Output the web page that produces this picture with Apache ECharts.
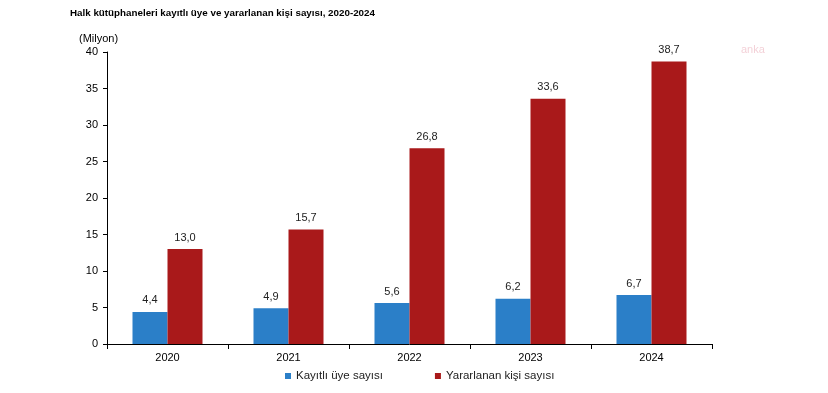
<!DOCTYPE html>
<html><head><meta charset="utf-8">
<script src="https://cdn.jsdelivr.net/npm/echarts@6/dist/echarts.min.js"></script>
<style>html,body{margin:0;padding:0;background:#fff}#c{width:828px;height:393px}</style>
</head><body><div id="c"></div>
<script>
const title = 'Halk kütüphaneleri kayıtlı üye ve yararlanan kişi sayısı, 2020-2024';
const unitLabel = '(Milyon)';
const years = ['2020','2021','2022','2023','2024'];
const uyeName = 'Kayıtlı üye sayısı';
const yararName = 'Yararlanan kişi sayısı';
const uye = [4.4, 4.9, 5.6, 6.2, 6.7];
const yarar = [13.0, 15.7, 26.8, 33.6, 38.7];

const fmt = v => v.toFixed(1).replace('.', ',');
const chart = echarts.init(document.getElementById('c'));
const font = 'Liberation Sans, Arial, sans-serif';
chart.setOption({
  animation: false,
  backgroundColor: '#fff',
  title: { text: title, left: 65, top: 3, textStyle: { fontFamily: font, fontSize: 9.8, fontWeight: 'bold', color: '#000' } },
  graphic: [
    { type: 'text', left: 741, top: 44, style: { text: 'anka', fill: 'rgba(220,120,140,0.35)', font: '11px ' + font } }
  ],
  legend: {
    bottom: 6, left: 280, itemGap: 52, itemWidth: 6, itemHeight: 6, icon: 'rect',
    textStyle: { fontFamily: font, fontSize: 11.5, color: '#222' },
    data: [uyeName, yararName]
  },
  grid: { left: 107, right: 116, top: 52, bottom: 49 },
  xAxis: {
    type: 'category', data: years,
    axisLine: { lineStyle: { color: '#000', width: 1 } },
    axisTick: { show: true, inside: false, length: 5, lineStyle: { color: '#000' } },
    axisLabel: { fontFamily: font, fontSize: 11, color: '#000', margin: 8 }
  },
  yAxis: {
    type: 'value', min: 0, max: 40, interval: 5,
    name: unitLabel, nameLocation: 'end', nameGap: 8,
    nameTextStyle: { fontFamily: font, fontSize: 11, color: '#000', align: 'left', padding: [0, 0, 0, -28] },
    axisLine: { show: true, lineStyle: { color: '#000' } },
    axisTick: { show: true, length: 4, lineStyle: { color: '#000' } },
    axisLabel: { fontFamily: font, fontSize: 11, color: '#000', margin: 9 },
    splitLine: { show: false }
  },
  series: [
    { name: uyeName, type: 'bar', data: uye, barWidth: 35, barGap: '0%',
      itemStyle: { color: '#2b7fc8' },
      label: { show: true, position: 'top', distance: 6, formatter: p => fmt(p.value), fontFamily: font, fontSize: 11, color: '#222' } },
    { name: yararName, type: 'bar', data: yarar, barWidth: 35,
      itemStyle: { color: '#a9191a' },
      label: { show: true, position: 'top', distance: 6, formatter: p => fmt(p.value), fontFamily: font, fontSize: 11, color: '#222' } }
  ]
});
</script></body></html>
